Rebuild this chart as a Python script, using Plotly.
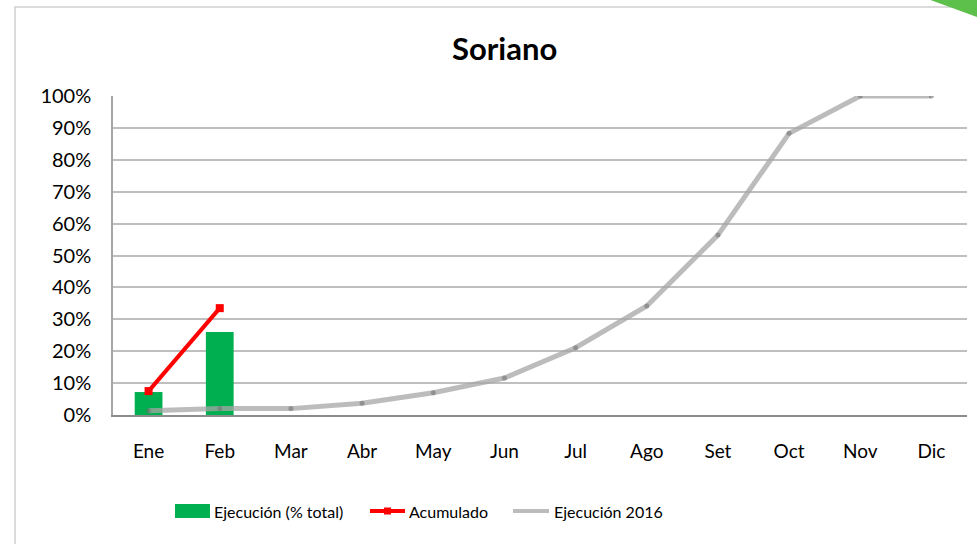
import plotly.graph_objects as go

months = ["Ene", "Feb", "Mar", "Abr", "May", "Jun", "Jul", "Ago", "Set", "Oct", "Nov", "Dic"]
ejecucion_pct = [0.072, 0.26]
acumulado = [0.075, 0.335]
ejecucion_2016 = [0.013, 0.02, 0.02, 0.037, 0.07, 0.116, 0.211, 0.342, 0.564, 0.883, 1.0, 1.0]
y_ticks = [i / 10 for i in range(11)]

FONT = "Lato"
GREEN = "#00b050"
RED = "#ff0000"
GRAY = "rgba(166,166,166,0.75)"

fig = go.Figure()
fig.add_trace(go.Bar(x=months[:len(ejecucion_pct)], y=ejecucion_pct, name="Ejecución (% total)",
                     marker=dict(color=GREEN, line=dict(width=0)), width=0.39, showlegend=False))
fig.add_trace(go.Scatter(x=months[:len(acumulado)], y=acumulado, name="Acumulado", mode="lines+markers",
                         line=dict(color=RED, width=4), marker=dict(symbol="square", size=8, color=RED),
                         showlegend=False))
fig.add_trace(go.Scatter(x=months, y=ejecucion_2016, name="Ejecución 2016", mode="lines+markers",
                         line=dict(color=GRAY, width=5),
                         marker=dict(size=5, color="rgba(110,110,110,0.55)"),
                         showlegend=False))

L, R, T, B = 113, 10, 96, 129
W, H = 977, 544
pw, ph = W - L - R, H - T - B

def px(x):
    return (x - L) / pw

def py(y):
    return (H - B - y) / ph

shapes = [
    dict(type="rect", xref="paper", yref="paper", x0=px(15), x1=px(990), y0=py(560), y1=py(7),
         line=dict(color="#d0d0d0", width=1.5), fillcolor="rgba(0,0,0,0)", layer="below"),
    dict(type="path", xref="paper", yref="paper",
         path=f"M {px(925)},{py(-2)} L {px(980)},{py(-2)} L {px(980)},{py(18)} Z",
         fillcolor="#5cc04a", line=dict(width=0)),
    # legend swatches
    dict(type="rect", xref="paper", yref="paper", x0=px(175), x1=px(210), y0=py(504), y1=py(518),
         fillcolor=GREEN, line=dict(width=0)),
    dict(type="line", xref="paper", yref="paper", x0=px(370), x1=px(405), y0=py(511), y1=py(511),
         line=dict(color=RED, width=4)),
    dict(type="rect", xref="paper", yref="paper", x0=px(384), x1=px(391), y0=py(507.5), y1=py(514.5),
         fillcolor=RED, line=dict(width=0)),
    dict(type="line", xref="paper", yref="paper", x0=px(513), x1=px(549), y0=py(511), y1=py(511),
         line=dict(color=GRAY, width=4)),
]

annotations = [
    dict(text="Ejecución (% total)", x=px(212), y=py(511), xref="paper", yref="paper",
         xanchor="left", yanchor="middle", showarrow=False, font=dict(family=FONT, size=16, color="#000")),
    dict(text="Acumulado", x=px(407), y=py(511), xref="paper", yref="paper",
         xanchor="left", yanchor="middle", showarrow=False, font=dict(family=FONT, size=16, color="#000")),
    dict(text="Ejecución 2016", x=px(552), y=py(511), xref="paper", yref="paper",
         xanchor="left", yanchor="middle", showarrow=False, font=dict(family=FONT, size=16, color="#000")),
    dict(text="<b>Soriano</b>", x=px(504), y=py(48), xref="paper", yref="paper",
         xanchor="center", yanchor="middle", showarrow=False, font=dict(family=FONT, size=31, color="#000")),
]

fig.update_layout(
    width=W, height=H,
    margin=dict(l=L, r=R, t=T, b=B, pad=0),
    paper_bgcolor="white", plot_bgcolor="white",
    font=dict(family=FONT, size=20, color="#000"),
    showlegend=False,
    shapes=shapes, annotations=annotations,
    bargap=0.61,
)
fig.update_xaxes(type="category", categoryorder="array", categoryarray=months,
                 range=[-0.5, 11.5], showline=True, linecolor="#8c8c8c", linewidth=1.5,
                 ticks="", showgrid=False, ticklabelstandoff=18, tickfont=dict(family=FONT, size=19))
fig.update_yaxes(range=[0, 1], tickvals=y_ticks, tickformat=".0%", showgrid=True,
                 gridcolor="#bfbfbf", gridwidth=1.5, showline=True, linecolor="#a6a6a6", linewidth=1.5,
                 zeroline=False, ticks="", ticklabelstandoff=16, tickfont=dict(family=FONT, size=20))

fig.write_html("out.html", config={"displayModeBar": False},
               post_script="document.body.style.margin='0';document.body.style.overflow='hidden';")
